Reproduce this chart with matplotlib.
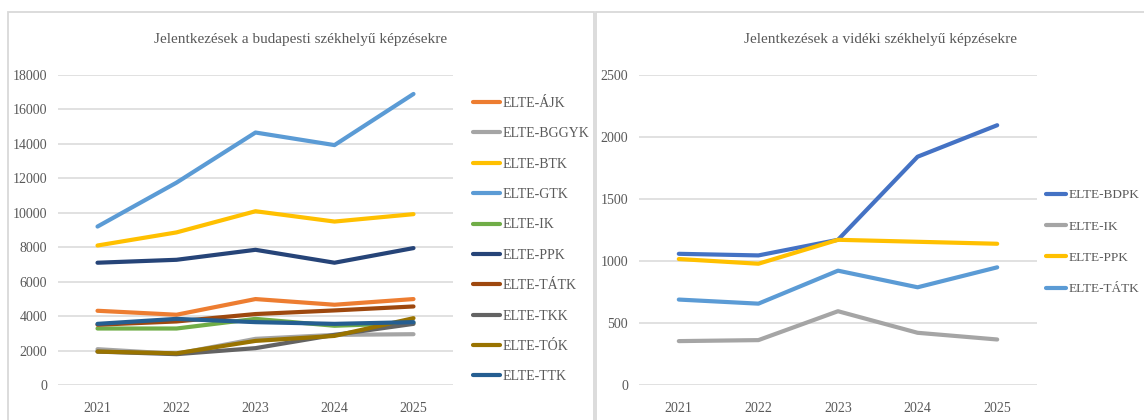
import matplotlib
matplotlib.use("Agg")
import matplotlib.pyplot as plt
from matplotlib.patches import Rectangle

plt.rcParams['font.family'] = ['Liberation Serif', 'DejaVu Serif']

years = ["2021", "2022", "2023", "2024", "2025"]

# Budapest-based programmes
bp_names = ["ELTE-ÁJK", "ELTE-BGGYK", "ELTE-BTK", "ELTE-GTK", "ELTE-IK",
            "ELTE-PPK", "ELTE-TÁTK", "ELTE-TKK", "ELTE-TÓK", "ELTE-TTK"]
bp_ajk = [4310, 4080, 4990, 4660, 4990]
bp_bggyk = [2080, 1810, 2680, 2910, 2950]
bp_btk = [8100, 8860, 10090, 9490, 9920]
bp_gtk = [9200, 11750, 14660, 13930, 16900]
bp_ik = [3280, 3280, 3840, 3440, 3600]
bp_ppk = [7100, 7270, 7850, 7100, 7950]
bp_tatk = [3500, 3690, 4120, 4330, 4560]
bp_tkk = [1940, 1790, 2140, 2910, 3550]
bp_tok = [1940, 1840, 2560, 2850, 3880]
bp_ttk = [3550, 3840, 3650, 3550, 3650]
bp_values = [bp_ajk, bp_bggyk, bp_btk, bp_gtk, bp_ik,
             bp_ppk, bp_tatk, bp_tkk, bp_tok, bp_ttk]
bp_colors = ["#ED7D31", "#A5A5A5", "#FFC000", "#5B9BD5", "#70AD47",
             "#264478", "#9E480E", "#636363", "#997300", "#255E91"]

# Regional programmes
rg_names = ["ELTE-BDPK", "ELTE-IK", "ELTE-PPK", "ELTE-TÁTK"]
rg_bdpk = [1058, 1045, 1171, 1841, 2095]
rg_ik = [354, 362, 595, 421, 367]
rg_ppk = [1016, 978, 1171, 1155, 1139]
rg_tatk = [689, 656, 922, 788, 949]
rg_values = [rg_bdpk, rg_ik, rg_ppk, rg_tatk]
rg_colors = ["#4472C4", "#A5A5A5", "#FFC000", "#5B9BD5"]

W, H = 1144, 420
fig = plt.figure(figsize=(W / 100, H / 100), dpi=100)
fig.patch.set_facecolor("white")

txt = "#595959"
grid = "#D9D9D9"

# panel borders
fig.patches.append(Rectangle((8 / W, -0.1), (594 - 8) / W, 1.1 - 12 / H,
                             transform=fig.transFigure, fill=False,
                             edgecolor=grid, lw=1.3))
fig.patches.append(Rectangle((596 / W, -0.1), (1160 - 596) / W, 1.1 - 12 / H,
                             transform=fig.transFigure, fill=False,
                             edgecolor=grid, lw=1.3))


def setup(ax, ymax, step):
    ax.set_xlim(-0.5, len(years) - 0.5)
    ax.set_ylim(0, ymax)
    ax.set_yticks(range(0, ymax + 1, step))
    ax.set_xticks(range(len(years)))
    ax.set_xticklabels(years)
    for s in ax.spines.values():
        s.set_visible(False)
    ax.grid(axis='y', color=grid, lw=1.1)
    ax.set_axisbelow(True)
    ax.tick_params(axis='both', length=0, labelsize=10, colors=txt)
    ax.tick_params(axis='y', pad=8)
    ax.tick_params(axis='x', pad=12)
    ax.patch.set_alpha(0)


axL = fig.add_axes([58 / W, 35 / H, 395 / W, 310 / H])
setup(axL, 18000, 2000)
for name, vals, c in zip(bp_names, bp_values, bp_colors):
    axL.plot(range(len(years)), vals, color=c, lw=3, label=name,
             solid_capstyle='round', solid_joinstyle='round')
axL.legend(loc='upper left', bbox_to_anchor=(473 / W, 1 - 97 / H),
           bbox_transform=fig.transFigure, frameon=False, fontsize=10,
           labelspacing=1.25, handlelength=1.95, handletextpad=0.2,
           borderpad=0, borderaxespad=0, labelcolor=txt)
fig.text(301 / W, 1 - 40 / H, "Jelentkezések a budapesti székhelyű képzésekre",
         ha='center', va='center', fontsize=11, color=txt)

axR = fig.add_axes([639 / W, 35 / H, 398 / W, 310 / H])
setup(axR, 2500, 500)
for name, vals, c in zip(rg_names, rg_values, rg_colors):
    axR.plot(range(len(years)), vals, color=c, lw=3, label=name,
             solid_capstyle='round', solid_joinstyle='round')
axR.legend(loc='upper left', bbox_to_anchor=(1046 / W, 1 - 189 / H),
           bbox_transform=fig.transFigure, frameon=False, fontsize=9.5,
           labelspacing=1.45, handlelength=1.55, handletextpad=0.2,
           borderpad=0, borderaxespad=0, labelcolor=txt)
fig.text(880 / W, 1 - 40 / H, "Jelentkezések a vidéki székhelyű képzésekre",
         ha='center', va='center', fontsize=11, color=txt)

fig.savefig("out.png", dpi=100, facecolor="white")
